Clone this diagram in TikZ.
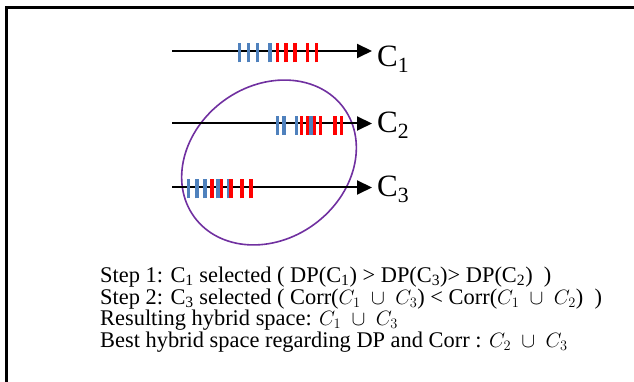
\documentclass[tikz,border=0pt]{standalone}
\usepackage{fontspec}
\setmainfont{Liberation Serif}
\usetikzlibrary{arrows.meta}
\definecolor{tickblue}{RGB}{79,129,189}
\definecolor{tickred}{RGB}{255,0,0}
\definecolor{ringpurple}{RGB}{112,48,160}
% fixed baseline distance, never padded by \lineskip
\newcommand{\tightlines}{\lineskiplimit=-100pt\relax\lineskip=0pt\relax}
\tikzset{
  frameline/.style={line width=3pt,black},
  axis/.style={line width=2pt,-{Triangle[length=15pt,width=14pt]}},
  btick/.style={line width=3.8pt,tickblue},
  rtick/.style={line width=3.8pt,tickred},
  clabel/.style={anchor=base west,inner sep=0pt,font=\fontsize{31}{31}\selectfont},
  steptext/.style={anchor=base west,inner sep=0pt,align=left,
    font=\fontsize{22.4}{21.6}\selectfont\tightlines},
  ring/.style={ringpurple,line width=1.6pt}
}
% draw a vertical tick of the given style centred on the axis at height #3
\newcommand{\tk}[3]{\draw[#1] (#2,#3-9.5) -- (#2,#3+9.5);}
% union of two sets, with a little more room around the cup
\newcommand{\setunion}[2]{$C_{#1}\;\cup\;C_{#2}$}
\begin{document}
\begin{tikzpicture}[x=1pt,y=1pt]
\useasboundingbox (0,0) rectangle (634,382);
% frame: top and left edges only
\draw[frameline] (634,374) -- (6.5,374) -- (6.5,0);

% axes
\coordinate (s1) at (172,331);   \coordinate (e1) at (372,331);
\coordinate (s2) at (172,258.5); \coordinate (e2) at (372,258.5);
\coordinate (s3) at (172,194.5); \coordinate (e3) at (372,194.5);

% ring around the two lower axes
\draw[ring] (269,219.5) ellipse[x radius=92.5, y radius=76.6, rotate=36];

\draw[axis] (s1) -- (e1);
\draw[axis] (s2) -- (e2);
\draw[axis] (s3) -- (e3);

% ticks on C1
\foreach \x in {239.5,248.5,257.5,270}{\tk{btick}{\x}{329}}
\foreach \x in {277.5,286,295,307.5,316.5}{\tk{rtick}{\x}{329}}
% ticks on C2
\foreach \x in {277.5,284,296.5}{\tk{btick}{\x}{256.5}}
\foreach \x in {301.5,307.5,314,320.5,335,341.5}{\tk{rtick}{\x}{256.5}}
\tk{btick}{311}{256.5}
% ticks on C3
\foreach \x in {212,221.5,242,251}{\tk{rtick}{\x}{193}}
\foreach \x in {188.5,197,205,218,228.5}{\tk{btick}{\x}{193}}
\tk{rtick}{231}{193}

% axis labels
\node[clabel] (c1) at (377,315.5) {C\textsubscript{1}};
\node[clabel] (c2) at (377,249) {C\textsubscript{2}};
\node[clabel] (c3) at (377,185.5) {C\textsubscript{3}};

% explanation; the base anchor sits on the last line
\node[steptext] (steps) at (100,34.7) {Step 1: C\textsubscript{1} selected ( DP(C\textsubscript{1}) > DP(C\textsubscript{3})> DP(C\textsubscript{2})\ \ )\\
Step 2: C\textsubscript{3} selected ( Corr(\setunion{1}{3}) < Corr(\setunion{1}{2})\ \ )\\
Resulting hybrid space: \setunion{1}{3}\\
Best hybrid space regarding DP and Corr : \setunion{2}{3}};
\end{tikzpicture}
\end{document}
